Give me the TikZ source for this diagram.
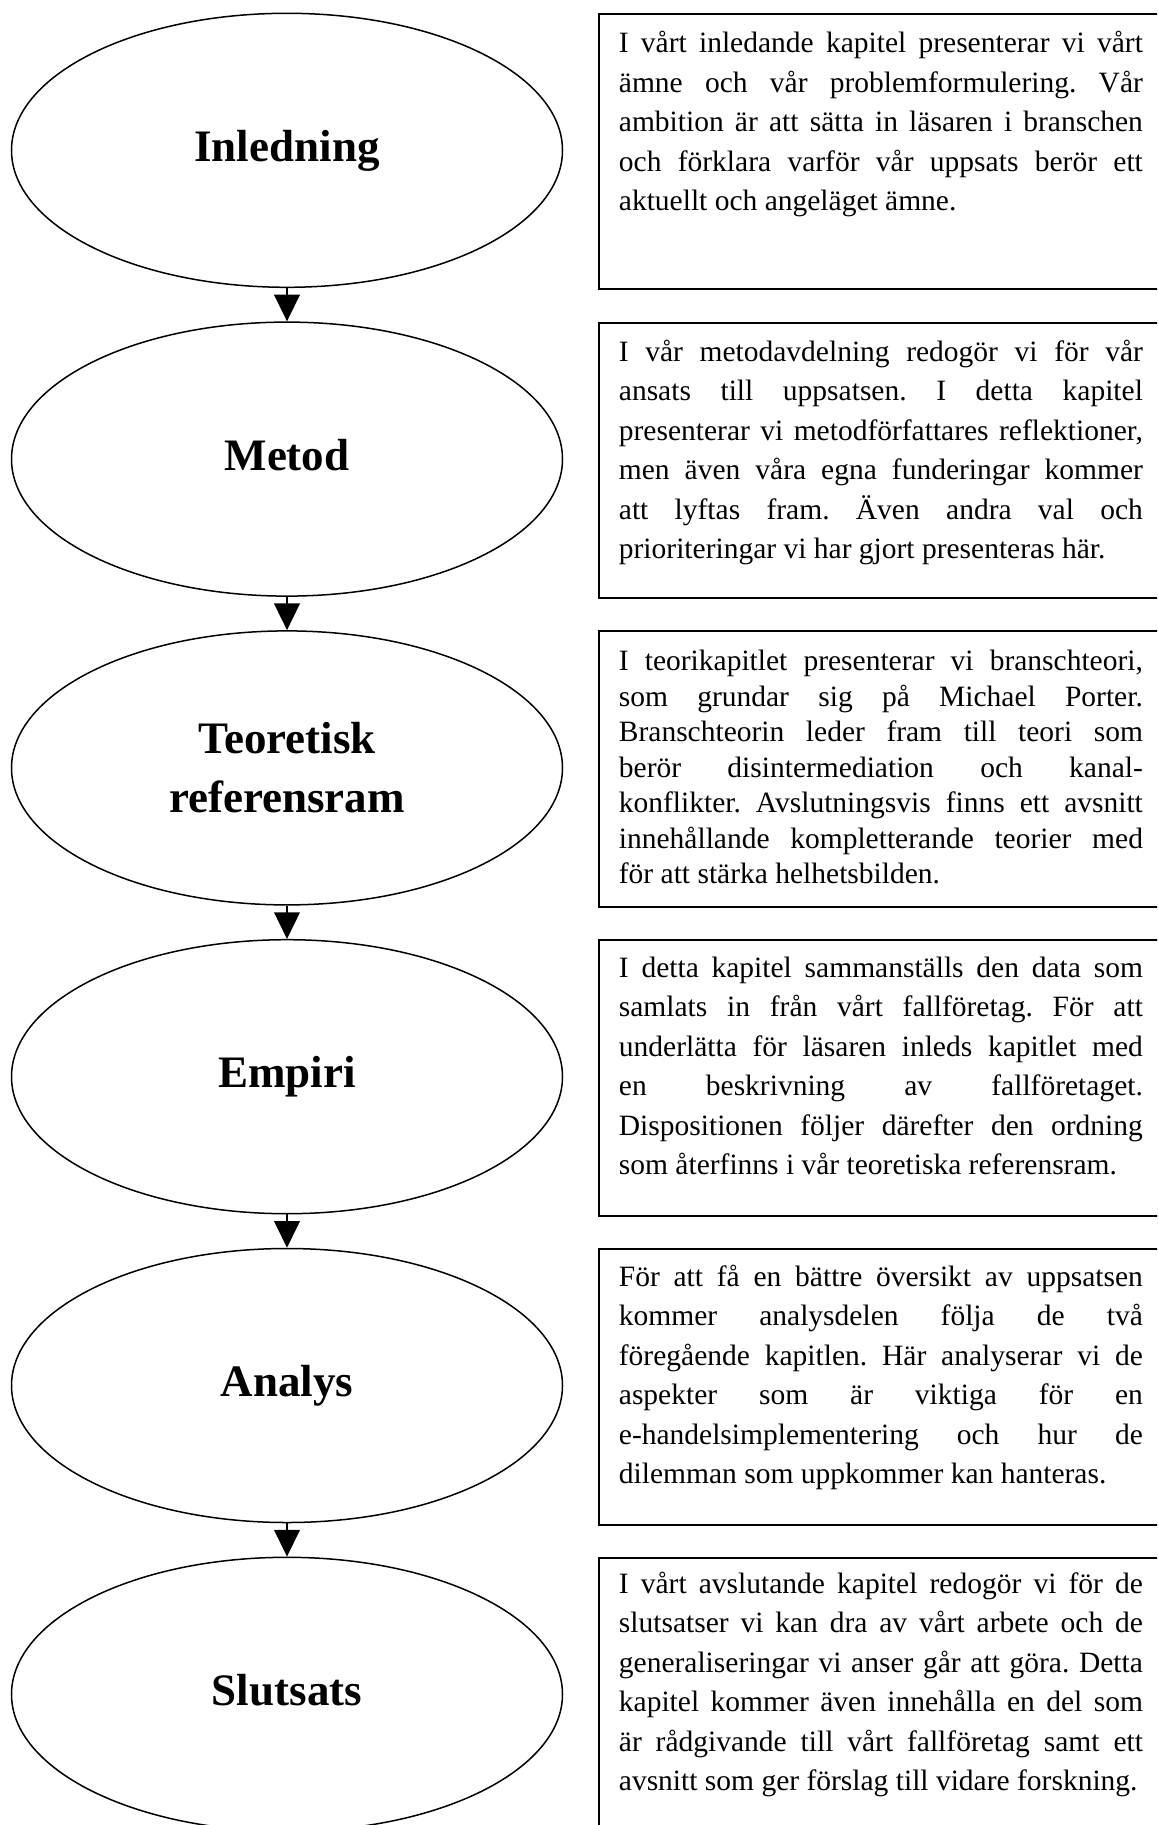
\documentclass[tikz,border=0pt]{standalone}
\usepackage{fontspec}
\setmainfont{Liberation Serif}
\usetikzlibrary{shapes.geometric,arrows.meta}

% one justified line of a description, and the closing (ragged) line;
% the interword glue is reset so that the spaces can stretch again
\newcommand{\jrow}[1]{{\spaceskip=0pt\xspaceskip=0pt\frenchspacing
  \makebox[524pt][s]{#1}}\\}
\newcommand{\frow}[1]{{\spaceskip=0pt\xspaceskip=0pt\frenchspacing
  \makebox[524pt][l]{#1}}}

\tikzset{
  stage/.style={ellipse, draw, line width=1.5pt, minimum width=551pt,
    minimum height=274pt, inner sep=0pt, align=center,
    font=\fontsize{45}{59}\selectfont\bfseries},
  oneline/.style={text height=31pt, text depth=9pt},
  descbox/.style={draw, line width=2pt, minimum width=600pt,
    minimum height=275.6pt, anchor=north west, inner sep=0pt},
  desctext/.style={anchor=base west, inner sep=0pt, text width=524pt,
    align=left, font=\fontsize{29.5}{39.5}\selectfont},
  flow/.style={line width=2pt, -{Triangle[length=26.7pt,width=25.6pt]}},
}

\begin{document}
\begin{tikzpicture}[x=1pt,y=-1pt]
\useasboundingbox (0,0) rectangle (1157,1825);
\fill[white] (0,0) rectangle (1157,1825);
\clip (0,0) rectangle (1157,1825);

% chapter stages
\node[stage,oneline] (e1) at (287,150.3) {Inledning};
\node[stage,oneline] (e2) at (287,459.1) {Metod};
\node[stage] (e3) at (287,767.9) {Teoretisk\\referensram};
\node[stage,oneline] (e4) at (287,1076.7) {Empiri};
\node[stage,oneline] (e5) at (287,1385.5) {Analys};
\node[stage,oneline] (e6) at (287,1694.3) {Slutsats};

\draw[flow] (e1.south) -- (e2.north);
\draw[flow] (e2.south) -- (e3.north);
\draw[flow] (e3.south) -- (e4.north);
\draw[flow] (e4.south) -- (e5.north);
\draw[flow] (e5.south) -- (e6.north);

% description frames
\node[descbox] (b1) at (598,12.7) {};
\node[descbox] (b2) at (598,321.5) {};
\node[descbox] (b3) at (598,630.3) {};
\node[descbox] (b4) at (598,939.1) {};
\node[descbox] (b5) at (598,1247.9) {};
\node[descbox] (b6) at (598,1556.7) {};

% description texts
\node[desctext] (t1) at (618.7,53) {%
\jrow{I vårt inledande kapitel presenterar vi vårt}
\jrow{ämne och vår problemformulering. Vår}
\jrow{ambition är att sätta in läsaren i branschen}
\jrow{och förklara varför vår uppsats berör ett}
\frow{aktuellt och angeläget ämne.}};

\node[desctext] (t2) at (618.7,361) {%
\jrow{I vår metodavdelning redogör vi för vår}
\jrow{ansats till uppsatsen. I detta kapitel}
\jrow{presenterar vi metodförfattares reflektioner,}
\jrow{men även våra egna funderingar kommer}
\jrow{att lyftas fram. Även andra val och}
\frow{prioriteringar vi har gjort presenteras här.}};

\node[desctext, font=\fontsize{29.5}{35.5}\selectfont] (t3) at (618.7,670.5) {%
\jrow{I teorikapitlet presenterar vi branschteori,}
\jrow{som grundar sig på Michael Porter.}
\jrow{Branschteorin leder fram till teori som}
\jrow{berör disintermediation och kanal-}
\jrow{konflikter. Avslutningsvis finns ett avsnitt}
\jrow{innehållande kompletterande teorier med}
\frow{för att stärka helhetsbilden.}};

\node[desctext] (t4) at (618.7,977) {%
\jrow{I detta kapitel sammanställs den data som}
\jrow{samlats in från vårt fallföretag. För att}
\jrow{underlätta för läsaren inleds kapitlet med}
\jrow{en beskrivning av fallföretaget.}
\jrow{Dispositionen följer därefter den ordning}
\frow{som återfinns i vår teoretiska referensram.}};

\node[desctext] (t5) at (618.7,1286) {%
\jrow{För att få en bättre översikt av uppsatsen}
\jrow{kommer analysdelen följa de två}
\jrow{föregående kapitlen. Här analyserar vi de}
\jrow{aspekter som är viktiga för en}
\jrow{e-handelsimplementering och hur de}
\frow{dilemman som uppkommer kan hanteras.}};

\node[desctext] (t6) at (618.7,1593) {%
\jrow{I vårt avslutande kapitel redogör vi för de}
\jrow{slutsatser vi kan dra av vårt arbete och de}
\jrow{generaliseringar vi anser går att göra. Detta}
\jrow{kapitel kommer även innehålla en del som}
\jrow{är rådgivande till vårt fallföretag samt ett}
\frow{avsnitt som ger förslag till vidare forskning.}};
\end{tikzpicture}
\end{document}
